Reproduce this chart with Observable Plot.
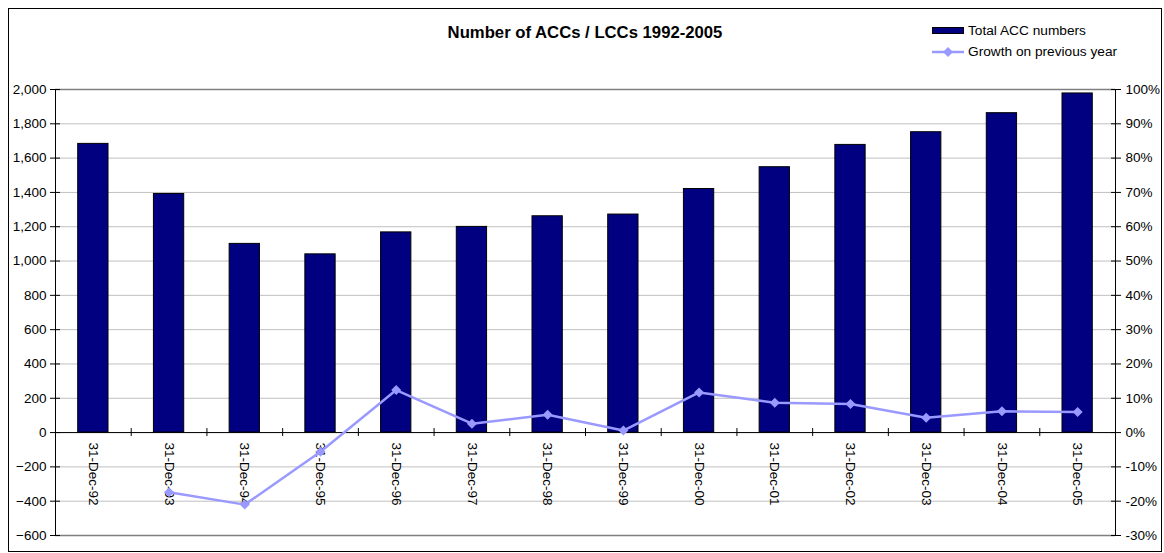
<!DOCTYPE html>
<html>
<head>
<meta charset="utf-8">
<script src="https://cdn.jsdelivr.net/npm/d3@7"></script>
<script src="https://cdn.jsdelivr.net/npm/@observablehq/plot@0.6"></script>
<style>
  body { margin: 0; background: #fff; font-family: "Liberation Sans", Arial, sans-serif; }
  #chart { position: relative; width: 1164px; height: 553px; overflow: hidden; }
  #frame { position: absolute; left: 8px; top: 8px; width: 1154px; height: 544px; border: 1px solid #000; box-sizing: border-box; pointer-events: none; }
  #header { position: relative; height: 80px; }
  #title { position: absolute; left: 55px; width: 1060px; top: 23px; text-align: center; font-weight: bold; font-size: 16.7px; line-height: 20px; color: #000; }
  .legend-item { position: absolute; left: 932px; font-size: 13.7px; height: 16px; line-height: 16px; display: flex; align-items: center; color: #000; white-space: nowrap; }
  .legend-item svg { margin-right: 3px; }
  #plot svg { display: block; }
</style>
</head>
<body>
<div id="chart">
  <div id="header">
    <div id="title">Number of ACCs / LCCs 1992-2005</div>
    <div class="legend-item" style="top:23px">
      <svg width="33" height="8"><rect x="0.5" y="0.5" width="31" height="6" fill="#000080" stroke="#000"/></svg>Total ACC numbers
    </div>
    <div class="legend-item" style="top:44px">
      <svg width="33" height="12"><line x1="0" x2="32" y1="6" y2="6" stroke="#9999ff" stroke-width="2.5"/><path d="M16,1L21,6L16,11L11,6Z" fill="#9999ff"/></svg>Growth on previous year
    </div>
  </div>
  <div id="plot"></div>
  <div id="frame"></div>
</div>
<script>
// Year-end dates of each count
const dates = ["31-Dec-92", "31-Dec-93", "31-Dec-94", "31-Dec-95", "31-Dec-96", "31-Dec-97", "31-Dec-98",
               "31-Dec-99", "31-Dec-00", "31-Dec-01", "31-Dec-02", "31-Dec-03", "31-Dec-04", "31-Dec-05"];
// Total ACC numbers (left axis)
const accTotals = [1683, 1391, 1100, 1039, 1167, 1199, 1261, 1271, 1420, 1547, 1677, 1751, 1862, 1977];
// Growth on previous year, percent (right axis); no value for the first year
const growthPct = [null, -17.4, -21.0, -5.6, 12.4, 2.6, 5.2, 0.6, 11.7, 8.7, 8.3, 4.3, 6.2, 6.0];
// Axis ticks
const countTicks = [-600, -400, -200, 0, 200, 400, 600, 800, 1000, 1200, 1400, 1600, 1800, 2000];
const pctTicks = [-30, -20, -10, 0, 10, 20, 30, 40, 50, 60, 70, 80, 90, 100];

// The right axis shares the left scale: 100% sits at 2,000
const k = countTicks[countTicks.length - 1] / pctTicks[pctTicks.length - 1];

const rows = dates.map((date, i) => ({date, total: accTotals[i], growth: growthPct[i]}));
const growthRows = rows.filter(d => d.growth != null);

const width = 1164, height = 473;
const marginLeft = 55, marginRight = 49, marginTop = 9, marginBottom = 18;
const step = (width - marginLeft - marginRight) / dates.length;
const pxToUnits = (countTicks[countTicks.length - 1] - countTicks[0]) / (height - marginTop - marginBottom);
const tickHalf = 4 * pxToUnits;
const fontSize = 13.5;

const chart = Plot.plot({
  width, height, marginLeft, marginRight, marginTop, marginBottom,
  style: {fontFamily: "'Liberation Sans', Arial, sans-serif", fontSize: `${fontSize}px`, color: "#000", background: "#fff"},
  x: {type: "band", domain: dates, paddingInner: 0.6, paddingOuter: 0.3, round: false, axis: null},
  y: {domain: [countTicks[0], countTicks[countTicks.length - 1]], axis: null},
  marks: [
    // horizontal gridlines
    Plot.ruleY(countTicks, {stroke: "#c0c0c0", strokeWidth: 1}),
    // plot area top and bottom borders
    Plot.ruleY([countTicks[0], countTicks[countTicks.length - 1]], {stroke: "#808080", strokeWidth: 1.5}),
    // bars
    Plot.barY(rows, {x: "date", y: "total", fill: "#000080", stroke: "#000", strokeWidth: 1}),
    // category axis along zero
    Plot.ruleY([0], {stroke: "#000", strokeWidth: 1}),
    Plot.ruleX(dates.slice(1), {x: d => d, y1: -tickHalf, y2: tickHalf, dx: -step / 2, stroke: "#000"}),
    // value axes
    Plot.ruleX([dates[0]], {x: d => d, y1: countTicks[0], y2: countTicks[countTicks.length - 1], dx: -step / 2, stroke: "#000"}),
    Plot.ruleX([dates[dates.length - 1]], {x: d => d, y1: countTicks[0], y2: countTicks[countTicks.length - 1], dx: step / 2, stroke: "#000"}),
    Plot.axisY(countTicks, {anchor: "left", label: null, tickSize: 10, dx: 5, tickPadding: 4, tickFormat: d3.format(","), stroke: "#000", fill: "#000"}),
    Plot.axisY(pctTicks.map(p => p * k), {anchor: "right", label: null, tickSize: 10, dx: -5, tickPadding: 5, tickFormat: v => `${Math.round(v / k)}%`, stroke: "#000", fill: "#000"}),
    // rotated category labels
    Plot.text(dates, {x: d => d, y: 0, text: d => d, rotate: 90, textAnchor: "start", lineAnchor: "middle", dy: 10, fill: "#000", fontSize}),
    // growth line
    Plot.line(growthRows, {x: "date", y: d => d.growth * k, stroke: "#9999ff", strokeWidth: 2.5}),
    Plot.dot(growthRows, {x: "date", y: d => d.growth * k, symbol: "diamond2", r: 4.5, fill: "#9999ff", stroke: "none"})
  ]
});
document.getElementById("plot").appendChild(chart);
</script>
</body>
</html>
